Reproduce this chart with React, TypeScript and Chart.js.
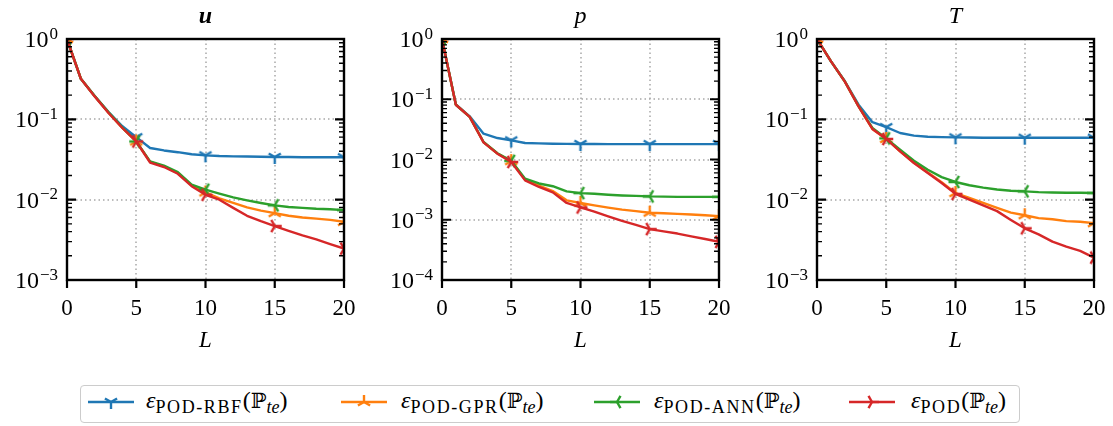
import React, { useEffect, useRef } from "react";
import { Chart, registerables } from "chart.js";
Chart.register(...registerables);

// ---------------- data ----------------
const L = [0, 1, 2, 3, 4, 5, 6, 7, 8, 9, 10, 11, 12, 13, 14, 15, 16, 17, 18, 19, 20];

const uRBF = [1.0, 0.32, 0.195, 0.123, 0.082, 0.060, 0.044, 0.041, 0.039, 0.0367, 0.0356, 0.0349, 0.0346, 0.0344, 0.0342, 0.034, 0.0339, 0.0338, 0.0338, 0.0337, 0.0337];
const uGPR = [1.0, 0.32, 0.194, 0.121, 0.078, 0.053, 0.0295, 0.026, 0.0215, 0.0150, 0.0123, 0.0104, 0.0091, 0.0080, 0.0073, 0.0068, 0.0063, 0.0060, 0.0058, 0.0056, 0.0053];
const uANN = [1.0, 0.32, 0.195, 0.122, 0.079, 0.053, 0.030, 0.0265, 0.022, 0.0154, 0.0133, 0.0119, 0.0107, 0.0098, 0.0091, 0.0085, 0.0081, 0.0079, 0.0077, 0.0076, 0.0074];
const uPOD = [1.0, 0.32, 0.193, 0.12, 0.078, 0.053, 0.029, 0.0255, 0.021, 0.0147, 0.0115, 0.0100, 0.0079, 0.0063, 0.0054, 0.0047, 0.0041, 0.0036, 0.0032, 0.0028, 0.00246];

const pRBF = [1.0, 0.082, 0.052, 0.0268, 0.0227, 0.0208, 0.0188, 0.0185, 0.0183, 0.0182, 0.0181, 0.0181, 0.018, 0.018, 0.018, 0.018, 0.018, 0.018, 0.018, 0.018, 0.018];
const pGPR = [1.0, 0.081, 0.051, 0.0193, 0.0126, 0.0094, 0.0046, 0.0037, 0.0030, 0.0021, 0.0019, 0.00173, 0.00159, 0.00147, 0.00139, 0.00131, 0.00128, 0.00125, 0.00122, 0.00119, 0.00115];
const pANN = [1.0, 0.081, 0.051, 0.0195, 0.0127, 0.0095, 0.0048, 0.0040, 0.0036, 0.00296, 0.00277, 0.0027, 0.0026, 0.00253, 0.00249, 0.00244, 0.00242, 0.0024, 0.0024, 0.0024, 0.0024];
const pPOD = [1.0, 0.081, 0.051, 0.0192, 0.0125, 0.0091, 0.0045, 0.0035, 0.00285, 0.0019, 0.0016, 0.00136, 0.00114, 0.00096, 0.00082, 0.0007, 0.00064, 0.00059, 0.00053, 0.00048, 0.00043];

const TRBF = [1.0, 0.53, 0.30, 0.152, 0.092, 0.080, 0.0676, 0.0626, 0.0607, 0.060, 0.0597, 0.0593, 0.059, 0.059, 0.059, 0.059, 0.059, 0.059, 0.059, 0.059, 0.059];
const TGPR = [1.0, 0.53, 0.297, 0.145, 0.076, 0.057, 0.040, 0.0288, 0.0218, 0.0165, 0.0121, 0.0105, 0.0091, 0.0079, 0.0069, 0.0064, 0.0059, 0.0057, 0.0054, 0.0053, 0.0051];
const TANN = [1.0, 0.53, 0.298, 0.146, 0.078, 0.058, 0.042, 0.0306, 0.0236, 0.0191, 0.0166, 0.0151, 0.0141, 0.0134, 0.0129, 0.0127, 0.0124, 0.0123, 0.0122, 0.0122, 0.0121];
const TPOD = [1.0, 0.53, 0.297, 0.145, 0.076, 0.057, 0.040, 0.0286, 0.0215, 0.0161, 0.0118, 0.0100, 0.0085, 0.0072, 0.0056, 0.0044, 0.0037, 0.0030, 0.0026, 0.0023, 0.0019];

const xTicks = [0, 5, 10, 15, 20];
const uExps = [0, -1, -2, -3];
const pExps = [0, -1, -2, -3, -4];
const TExps = [0, -1, -2, -3];
const titles = ["u", "p", "T"];
const seriesSubs = ["POD-RBF", "POD-GPR", "POD-ANN", "POD"];
const colors = ["#1f77b4", "#ff7f0e", "#2ca02c", "#d62728"];

// ---------------- styling ----------------
const FONT = "'Liberation Serif', 'DejaVu Serif', serif";
const PANEL_LEFTS = [67, 442, 817];
const CANVAS_W = 363;
const CANVAS_H = 360;
const PAD = { left: 67, right: 19, top: 39, bottom: 80 };
const LW = 2.4;

const DIRS: number[][][] = [
  [[0, 1], [-0.866, -0.5], [0.866, -0.5]], // tri_down
  [[0, -1], [-0.866, 0.5], [0.866, 0.5]], // tri_up
  [[-1, 0], [0.5, -0.866], [0.5, 0.866]], // tri_left
  [[1, 0], [-0.5, -0.866], [-0.5, 0.866]], // tri_right
];

function triCanvas(color: string, dirs: number[][], r = 7, lw = LW) {
  const c = document.createElement("canvas");
  const s = 2 * r + 4;
  c.width = s;
  c.height = s;
  const g = c.getContext("2d")!;
  g.strokeStyle = color;
  g.lineWidth = lw;
  g.beginPath();
  for (const [dx, dy] of dirs) {
    g.moveTo(s / 2, s / 2);
    g.lineTo(s / 2 + dx * r, s / 2 + dy * r);
  }
  g.stroke();
  return c;
}

const panels = [
  { title: titles[0], bold: true, exps: uExps, series: [uRBF, uGPR, uANN, uPOD] },
  { title: titles[1], bold: false, exps: pExps, series: [pRBF, pGPR, pANN, pPOD] },
  { title: titles[2], bold: false, exps: TExps, series: [TRBF, TGPR, TANN, TPOD] },
];

function makeDecor(title: string, bold: boolean, exps: number[]) {
  return {
    id: "decor",
    beforeDatasetsDraw(chart: any) {
      const { ctx, chartArea: a, scales } = chart;
      const xs = scales.x, ys = scales.y;
      ctx.save();
      ctx.strokeStyle = "#a8a8a8";
      ctx.lineWidth = 1.5;
      ctx.setLineDash([1.5, 3]);
      for (const t of xTicks) {
        const x = Math.round(xs.getPixelForValue(t));
        ctx.beginPath();
        ctx.moveTo(x, a.top);
        ctx.lineTo(x, a.bottom);
        ctx.stroke();
      }
      for (const e of exps) {
        const y = Math.round(ys.getPixelForValue(Math.pow(10, e)));
        ctx.beginPath();
        ctx.moveTo(a.left, y);
        ctx.lineTo(a.right, y);
        ctx.stroke();
      }
      ctx.restore();
    },
    afterDatasetsDraw(chart: any) {
      const { ctx, chartArea: a, scales } = chart;
      const xs = scales.x, ys = scales.y;
      ctx.save();
      ctx.strokeStyle = "#000";
      ctx.fillStyle = "#000";
      const minE = Math.min(...exps), maxE = Math.max(...exps);
      ctx.lineWidth = 1.4;
      for (let d = minE; d < maxE; d++) {
        for (let k = 2; k <= 9; k++) {
          const y = ys.getPixelForValue(k * Math.pow(10, d));
          ctx.beginPath();
          ctx.moveTo(a.left, y);
          ctx.lineTo(a.left + 5, y);
          ctx.moveTo(a.right, y);
          ctx.lineTo(a.right - 5, y);
          ctx.stroke();
        }
      }
      ctx.lineWidth = 2.2;
      for (const e of exps) {
        const y = ys.getPixelForValue(Math.pow(10, e));
        ctx.beginPath();
        ctx.moveTo(a.left, y);
        ctx.lineTo(a.left + 9, y);
        ctx.moveTo(a.right, y);
        ctx.lineTo(a.right - 9, y);
        ctx.stroke();
      }
      for (const t of xTicks) {
        const x = xs.getPixelForValue(t);
        ctx.beginPath();
        ctx.moveTo(x, a.bottom);
        ctx.lineTo(x, a.bottom + 8);
        ctx.stroke();
      }
      ctx.lineWidth = 2.4;
      ctx.strokeRect(a.left, a.top, a.right - a.left, a.bottom - a.top);

      const baseFont = `24px ${FONT}`;
      const expFont = `17px ${FONT}`;
      for (const e of exps) {
        const y = ys.getPixelForValue(Math.pow(10, e));
        const expTxt = e === 0 ? "0" : "\u2212" + String(-e);
        ctx.font = expFont;
        const ew = ctx.measureText(expTxt).width;
        ctx.font = baseFont;
        const bw = ctx.measureText("10").width;
        const right = a.left - 9;
        ctx.textBaseline = "alphabetic";
        ctx.textAlign = "left";
        ctx.fillText("10", right - ew - bw - 1, y + 8);
        ctx.font = expFont;
        ctx.fillText(expTxt, right - ew, y - 0.5);
      }
      ctx.font = `23px ${FONT}`;
      ctx.textAlign = "center";
      ctx.textBaseline = "alphabetic";
      for (const t of xTicks) {
        const x = xs.getPixelForValue(t);
        ctx.fillText(String(t), x, a.bottom + 35);
      }
      ctx.font = `italic 23px ${FONT}`;
      ctx.fillText("L", (a.left + a.right) / 2, a.bottom + 67);
      ctx.font = `${bold ? "bold " : ""}italic 24px ${FONT}`;
      ctx.fillText(title, (a.left + a.right) / 2, 23);
      ctx.restore();
    },
  };
}

function LegendLabel({ sub }: { sub: string }) {
  return (
    <span style={{ fontFamily: FONT, fontSize: 24, whiteSpace: "nowrap", color: "#000" }}>
      <span style={{ fontStyle: "italic" }}>ε</span>
      <span style={{ fontSize: 18, position: "relative", top: 5, letterSpacing: 1.6 }}>{sub}</span>
      <span>(</span>
      <span style={{ fontFamily: "'DejaVu Serif', serif", fontSize: 21 }}>ℙ</span>
      <span style={{ fontStyle: "italic", fontSize: 18, position: "relative", top: 5 }}>te</span>
      <span>)</span>
    </span>
  );
}

function Sample({ idx }: { idx: number }) {
  const c = colors[idx];
  const cx = 23, cy = 10, r = 7;
  return (
    <svg width={46} height={20} style={{ display: "block" }}>
      <line x1={0} y1={cy} x2={46} y2={cy} stroke={c} strokeWidth={LW} />
      {DIRS[idx].map((d, i) => (
        <line key={i} x1={cx} y1={cy} x2={cx + d[0] * r} y2={cy + d[1] * r} stroke={c} strokeWidth={LW} />
      ))}
    </svg>
  );
}

export default function App() {
  const refs = [useRef<HTMLCanvasElement>(null), useRef<HTMLCanvasElement>(null), useRef<HTMLCanvasElement>(null)];

  useEffect(() => {
    const markers = colors.map((c, i) => triCanvas(c, DIRS[i]));
    const charts = panels.map((p, pi) => {
      const canvas = refs[pi].current!;
      const minE = Math.min(...p.exps);
      const datasets = p.series.map((vals, si) => ({
        label: seriesSubs[si],
        data: vals.map((v, i) => ({ x: L[i], y: v })),
        borderColor: colors[si],
        backgroundColor: colors[si],
        borderWidth: LW,
        borderJoinStyle: "round" as const,
        tension: 0,
        pointStyle: markers[si],
        pointRadius: (ctx: any) => (ctx.dataIndex % 5 === 0 ? 7 : 0),
        pointHoverRadius: 0,
        order: 3 - si,
      }));
      return new Chart(canvas, {
        type: "line",
        data: { datasets },
        plugins: [makeDecor(p.title, p.bold, p.exps)],
        options: {
          animation: false,
          responsive: false,
          devicePixelRatio: 1,
          events: [],
          layout: { padding: PAD },
          plugins: { legend: { display: false }, tooltip: { enabled: false } },
          scales: {
            x: { type: "linear", min: 0, max: 20, display: false },
            y: { type: "logarithmic", min: Math.pow(10, minE), max: 1, display: false },
          },
        },
      } as any);
    });
    return () => charts.forEach((c) => c.destroy());
  }, []);

  const sampleLefts = [7, 260, 513, 768];
  const textLefts = [65, 320, 573, 830];

  return (
    <div style={{ position: "fixed", left: 0, top: 0, width: 1113, height: 426, background: "#fff", overflow: "hidden" }}>
      {PANEL_LEFTS.map((pl, i) => (
        <canvas
          key={i}
          ref={refs[i]}
          width={CANVAS_W}
          height={CANVAS_H}
          style={{ position: "absolute", left: pl - PAD.left, top: 0, width: CANVAS_W, height: CANVAS_H }}
        />
      ))}
      <div
        style={{
          position: "absolute",
          left: 80,
          top: 385,
          width: 940,
          height: 38,
          border: "1px solid #cccccc",
          borderRadius: 4,
          boxSizing: "border-box",
        }}
      >
        {seriesSubs.map((s, i) => (
          <React.Fragment key={i}>
            <div style={{ position: "absolute", left: sampleLefts[i], top: 6 }}>
              <Sample idx={i} />
            </div>
            <div style={{ position: "absolute", left: textLefts[i], top: 0, lineHeight: "28px" }}>
              <LegendLabel sub={s} />
            </div>
          </React.Fragment>
        ))}
      </div>
    </div>
  );
}
